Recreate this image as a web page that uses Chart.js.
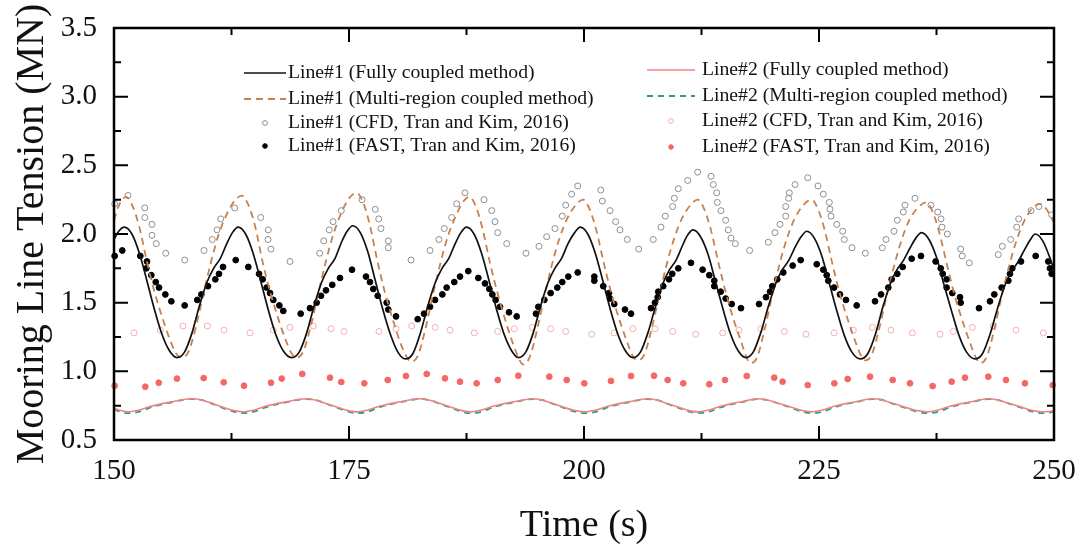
<!DOCTYPE html>
<html>
<head>
<meta charset="utf-8">
<script src="https://cdn.jsdelivr.net/npm/chart.js@4.4.1/dist/chart.umd.min.js"></script>
<style>
    html, body { margin: 0; padding: 0; background: #fff; }
    #wrap { width: 1083px; height: 550px; }
</style>
</head>
<body>
<div id="wrap"><canvas id="chart__tension" width="1083" height="550"></canvas></div>
<script>
// Line#1, fully coupled method (solid black)
const line1FullTime = [150.0, 150.5, 151.1, 151.9, 152.7, 153.5, 154.3, 155.1, 155.9, 156.7,
    157.5, 158.3, 159.1, 159.9, 160.6, 161.3, 162.0, 162.6, 163.2,
    164.0, 164.8, 165.6, 166.4, 167.2, 168.0, 168.9,
    169.7, 170.5, 171.3, 172.1, 172.8, 173.5, 174.2, 174.8, 175.4,
    176.2, 177.0, 177.8, 178.6, 179.4, 180.2, 181.0,
    181.8, 182.6, 183.4, 184.2, 184.9, 185.6, 186.3, 186.9, 187.5,
    188.3, 189.1, 189.9, 190.7, 191.5, 192.3, 193.0,
    193.8, 194.6, 195.4, 196.2, 196.9, 197.6, 198.3, 199.0, 199.6,
    200.4, 201.2, 202.0, 202.8, 203.6, 204.4, 205.2,
    206.0, 206.8, 207.6, 208.4, 209.1, 209.8, 210.5, 211.0, 211.6,
    212.4, 213.2, 214.0, 214.8, 215.6, 216.4, 217.2,
    218.0, 218.8, 219.6, 220.4, 221.1, 221.8, 222.5, 223.1, 223.7,
    224.5, 225.3, 226.1, 226.9, 227.7, 228.5, 229.4,
    230.2, 231.0, 231.8, 232.6, 233.3, 234.0, 234.7, 235.3, 235.9,
    236.7, 237.5, 238.3, 239.1, 239.9, 240.7, 241.6,
    242.4, 243.2, 244.0, 244.8, 245.5, 246.2, 246.9, 247.5, 248.0,
    248.8, 249.6, 250.0];
const line1FullValue = [1.96, 2.02, 2.05, 2.00, 1.86, 1.66, 1.45, 1.27, 1.15, 1.10,
    1.14, 1.28, 1.48, 1.65, 1.75, 1.82, 1.93, 2.01, 2.05,
    2.00, 1.86, 1.66, 1.45, 1.27, 1.15, 1.10,
    1.14, 1.28, 1.48, 1.65, 1.75, 1.82, 1.94, 2.02, 2.06,
    2.01, 1.87, 1.66, 1.45, 1.27, 1.14, 1.09,
    1.13, 1.28, 1.48, 1.65, 1.75, 1.82, 1.93, 2.01, 2.05,
    2.00, 1.86, 1.66, 1.45, 1.27, 1.15, 1.10,
    1.14, 1.28, 1.48, 1.65, 1.75, 1.82, 1.93, 2.01, 2.05,
    2.00, 1.86, 1.66, 1.45, 1.27, 1.15, 1.10,
    1.14, 1.28, 1.47, 1.64, 1.74, 1.81, 1.92, 1.99, 2.03,
    1.98, 1.85, 1.65, 1.45, 1.27, 1.15, 1.10,
    1.14, 1.28, 1.47, 1.64, 1.74, 1.81, 1.91, 1.98, 2.02,
    1.97, 1.84, 1.64, 1.44, 1.26, 1.14, 1.09,
    1.13, 1.27, 1.47, 1.64, 1.74, 1.81, 1.90, 1.97, 2.01,
    1.96, 1.83, 1.63, 1.44, 1.26, 1.14, 1.09,
    1.13, 1.27, 1.46, 1.63, 1.73, 1.80, 1.89, 1.96, 2.00,
    1.95, 1.82, 1.74];

// Line#1, multi-region coupled method (dashed brown)
const line1MultiTime = [150.0, 150.6, 151.3,
    152.0, 152.7, 153.5, 154.3, 155.1, 155.9, 156.6, 157.2,
    157.9, 158.7, 159.5, 160.3, 161.1, 161.9, 162.7, 163.6,
    164.3, 165.0, 165.8, 166.6, 167.4, 168.2, 168.9, 169.4,
    170.1, 170.9, 171.7, 172.5, 173.3, 174.1, 174.9, 175.8,
    176.5, 177.2, 178.0, 178.8, 179.6, 180.4, 181.1, 181.6,
    182.3, 183.1, 183.9, 184.7, 185.5, 186.3, 187.0, 187.8,
    188.5, 189.2, 190.0, 190.8, 191.6, 192.4, 193.1, 193.5,
    194.2, 195.0, 195.8, 196.6, 197.4, 198.2, 199.0, 199.9,
    200.6, 201.3, 202.1, 202.9, 203.7, 204.5, 205.2, 205.7,
    206.4, 207.2, 208.0, 208.8, 209.6, 210.4, 211.2, 212.1,
    212.8, 213.5, 214.3, 215.1, 215.9, 216.7, 217.3, 217.7,
    218.4, 219.2, 220.0, 220.8, 221.6, 222.4, 223.2, 224.2,
    224.9, 225.6, 226.4, 227.2, 228.0, 228.8, 229.5, 229.9,
    230.6, 231.4, 232.2, 233.0, 233.8, 234.6, 235.5, 236.4,
    237.1, 237.8, 238.6, 239.4, 240.2, 241.0, 241.7, 242.1,
    242.8, 243.6, 244.4, 245.2, 246.0, 246.8, 247.6, 248.5,
    249.2, 250.0];
const line1MultiValue = [2.10, 2.22, 2.27,
    2.20, 2.05, 1.80, 1.58, 1.40, 1.24, 1.13, 1.10,
    1.14, 1.32, 1.56, 1.79, 1.99, 2.13, 2.23, 2.28,
    2.21, 2.06, 1.80, 1.58, 1.40, 1.24, 1.13, 1.10,
    1.14, 1.32, 1.56, 1.79, 1.99, 2.14, 2.25, 2.30,
    2.23, 2.07, 1.81, 1.58, 1.39, 1.22, 1.11, 1.07,
    1.11, 1.30, 1.55, 1.78, 1.98, 2.12, 2.22, 2.27,
    2.20, 2.04, 1.79, 1.57, 1.38, 1.21, 1.09, 1.05,
    1.10, 1.30, 1.55, 1.78, 1.97, 2.11, 2.20, 2.25,
    2.18, 2.03, 1.79, 1.57, 1.39, 1.23, 1.11, 1.08,
    1.12, 1.31, 1.55, 1.78, 1.97, 2.11, 2.20, 2.25,
    2.18, 2.03, 1.79, 1.57, 1.38, 1.22, 1.10, 1.06,
    1.10, 1.30, 1.55, 1.78, 1.97, 2.11, 2.20, 2.25,
    2.18, 2.03, 1.79, 1.57, 1.39, 1.23, 1.11, 1.08,
    1.12, 1.31, 1.55, 1.77, 1.96, 2.10, 2.19, 2.23,
    2.16, 2.01, 1.78, 1.56, 1.38, 1.22, 1.10, 1.06,
    1.10, 1.29, 1.54, 1.76, 1.95, 2.09, 2.18, 2.22,
    2.18, 2.08];

// Line#1, CFD (Tran and Kim, 2016) - open grey circles
const line1CfdTime = [150.07, 151.49, 153.27, 153.27, 154.04, 154.04, 154.5, 155.5, 157.52, 159.57,
    160.46, 160.96, 161.35, 162.84, 165.61, 166.41, 166.38, 166.70, 168.72, 171.88,
    172.31, 172.90, 173.30, 174.18, 176.38, 177.80, 178.16, 178.40, 179.18, 179.18,
    181.60, 183.62, 184.57, 185.14, 185.92, 186.45, 187.34, 189.36, 190.18, 190.53,
    190.82, 191.78, 193.83, 195.21, 196.03, 196.91, 197.69, 198.05, 198.69, 199.33,
    201.78, 201.95, 202.77, 203.37, 203.83, 204.61, 205.82, 207.37, 208.19, 208.65,
    209.43, 209.61, 210.03, 211.03, 212.09, 213.51, 213.76, 214.12, 214.18, 214.57,
    215.07, 215.35, 215.64, 216.10, 217.62, 219.61, 220.32, 220.85, 221.46, 221.46,
    221.77, 221.84, 222.45, 223.80, 224.89, 225.46, 226.10, 226.17, 226.28, 226.88,
    227.52, 227.69, 228.51, 229.93, 231.74, 232.13, 232.98, 233.33, 233.97, 234.15,
    235.21, 236.91, 237.63, 237.98, 238.09, 238.65, 240.07, 240.24, 240.99, 244.07,
    244.50, 245.39, 246.03, 246.24, 247.55, 248.40, 249.75];
const line1CfdValue = [2.22, 2.28, 2.19, 2.12, 2.07, 1.99, 1.93, 1.86, 1.81, 1.88,
    1.96, 2.03, 2.11, 2.19, 2.12, 2.03, 1.96, 1.89, 1.80, 1.86,
    1.95, 2.03, 2.09, 2.17, 2.25, 2.18, 2.11, 2.04, 1.95, 1.90,
    1.81, 1.88, 1.96, 2.04, 2.12, 2.22, 2.30, 2.25, 2.17, 2.09,
    2.01, 1.93, 1.86, 1.91, 1.98, 2.04, 2.13, 2.21, 2.29, 2.35,
    2.32, 2.24, 2.17, 2.09, 2.03, 1.96, 1.89, 1.96, 2.05, 2.13,
    2.20, 2.26, 2.33, 2.39, 2.45, 2.42, 2.36, 2.30, 2.23, 2.17,
    2.10, 2.03, 1.97, 1.93, 1.88, 1.94, 2.01, 2.07, 2.13, 2.20,
    2.26, 2.30, 2.36, 2.41, 2.35, 2.29, 2.23, 2.18, 2.13, 2.07,
    2.02, 1.96, 1.90, 1.86, 1.90, 1.96, 2.02, 2.10, 2.16, 2.21,
    2.26, 2.21, 2.16, 2.11, 2.05, 2.00, 1.89, 1.84, 1.79, 1.85,
    1.91, 1.96, 2.05, 2.11, 2.17, 2.20, 2.14];

// Line#1, FAST (Tran and Kim, 2016) - filled black dots
const line1FastTime = [150.07, 150.88, 152.80, 153.51, 153.44, 153.97, 154.44, 154.79, 155.46, 156.10,
    157.52, 158.86, 159.29, 160.00, 160.78, 161.17, 161.60, 162.95, 164.29, 165.43,
    165.82, 166.24, 166.60, 166.95, 167.59, 168.01, 169.86, 170.85, 171.56, 172.02,
    172.55, 173.22, 174.04, 175.32, 176.81, 177.23, 177.59, 178.05, 179.01, 179.18,
    180.00, 182.31, 182.98, 183.62, 184.15, 184.93, 185.39, 186.20, 186.81, 187.69,
    188.76, 189.47, 189.93, 190.25, 190.60, 191.06, 192.02, 192.84, 194.89, 195.14,
    195.78, 196.45, 197.16, 197.69, 198.33, 199.33, 201.10, 201.10, 202.05, 202.66,
    202.77, 203.22, 204.36, 205.00, 207.13, 207.55, 207.84, 207.90, 208.43, 209.04,
    209.39, 210.03, 211.38, 212.62, 213.33, 213.86, 213.86, 214.54, 215.07, 215.71,
    216.70, 218.62, 219.36, 219.79, 220.03, 220.56, 221.20, 222.20, 223.05, 224.76,
    225.46, 225.82, 225.99, 226.60, 227.23, 227.87, 229.01, 230.96, 231.60, 232.37,
    232.73, 233.33, 233.90, 234.86, 235.85, 237.41, 237.95, 238.16, 238.58, 238.58,
    239.18, 240.00, 240.07, 242.02, 243.19, 243.65, 244.43, 245.14, 245.32, 245.56,
    246.49, 248.05, 249.39, 249.57, 249.75];
const line1FastValue = [1.84, 1.88, 1.84, 1.80, 1.75, 1.70, 1.65, 1.61, 1.56, 1.51,
    1.48, 1.52, 1.56, 1.62, 1.67, 1.71, 1.76, 1.81, 1.76, 1.71,
    1.67, 1.61, 1.57, 1.52, 1.48, 1.44, 1.42, 1.46, 1.50, 1.55,
    1.59, 1.63, 1.68, 1.74, 1.69, 1.65, 1.60, 1.55, 1.50, 1.45,
    1.40, 1.38, 1.42, 1.47, 1.52, 1.56, 1.61, 1.65, 1.69, 1.73,
    1.68, 1.64, 1.60, 1.56, 1.52, 1.47, 1.43, 1.40, 1.42, 1.47,
    1.52, 1.57, 1.61, 1.65, 1.69, 1.72, 1.69, 1.66, 1.62, 1.57,
    1.53, 1.49, 1.45, 1.42, 1.46, 1.50, 1.54, 1.58, 1.62, 1.67,
    1.71, 1.75, 1.79, 1.74, 1.70, 1.66, 1.62, 1.58, 1.53, 1.49,
    1.46, 1.49, 1.54, 1.58, 1.62, 1.67, 1.72, 1.77, 1.81, 1.78,
    1.74, 1.70, 1.66, 1.61, 1.56, 1.52, 1.48, 1.51, 1.56, 1.61,
    1.67, 1.71, 1.76, 1.82, 1.84, 1.80, 1.75, 1.71, 1.67, 1.61,
    1.57, 1.54, 1.50, 1.46, 1.51, 1.56, 1.61, 1.66, 1.71, 1.75,
    1.80, 1.84, 1.80, 1.75, 1.71];

// Line#2 (fully coupled: pink solid, multi-region: teal dashed) share one time base
const line2Time = [150.0, 150.7, 151.5,
    152.7, 153.9, 155.1, 156.3, 157.4, 158.3, 159.4, 160.5, 161.5, 162.6, 163.7,
    164.9, 166.1, 167.3, 168.5, 169.6, 170.4, 171.5, 172.6, 173.7, 174.8, 175.8,
    177.0, 178.2, 179.4, 180.6, 181.7, 182.5, 183.6, 184.7, 185.8, 186.9, 187.9,
    189.1, 190.3, 191.5, 192.7, 193.8, 194.5, 195.6, 196.7, 197.8, 198.9, 200.1,
    201.3, 202.5, 203.7, 204.9, 206.0, 206.7, 207.8, 208.9, 210.0, 211.1, 212.1,
    213.3, 214.5, 215.7, 216.9, 217.8, 218.4, 219.6, 220.8, 222.0, 223.1, 224.2,
    225.4, 226.6, 227.8, 229.0, 230.0, 230.7, 231.8, 232.9, 234.1, 235.3, 236.5,
    237.7, 238.9, 240.1, 241.3, 242.3, 243.0, 244.1, 245.3, 246.5, 247.6, 248.7,
    249.5, 250.0];
const line2FullValue = [0.730, 0.715, 0.705,
    0.718, 0.745, 0.765, 0.780, 0.795, 0.800, 0.790, 0.765, 0.740, 0.716, 0.705,
    0.718, 0.745, 0.765, 0.780, 0.795, 0.800, 0.790, 0.765, 0.740, 0.716, 0.705,
    0.718, 0.745, 0.765, 0.780, 0.795, 0.800, 0.790, 0.765, 0.740, 0.716, 0.705,
    0.718, 0.745, 0.765, 0.780, 0.795, 0.800, 0.790, 0.765, 0.740, 0.716, 0.705,
    0.718, 0.745, 0.765, 0.780, 0.795, 0.800, 0.790, 0.765, 0.740, 0.716, 0.705,
    0.718, 0.745, 0.765, 0.780, 0.795, 0.800, 0.790, 0.765, 0.740, 0.716, 0.705,
    0.718, 0.745, 0.765, 0.780, 0.795, 0.800, 0.790, 0.765, 0.740, 0.716, 0.705,
    0.718, 0.745, 0.765, 0.780, 0.795, 0.800, 0.790, 0.765, 0.740, 0.716, 0.705,
    0.708, 0.712];
const line2MultiValue = [0.725, 0.705, 0.695,
    0.706, 0.737, 0.760, 0.777, 0.793, 0.798, 0.790, 0.763, 0.736, 0.709, 0.695,
    0.706, 0.737, 0.760, 0.777, 0.793, 0.798, 0.790, 0.763, 0.736, 0.709, 0.695,
    0.706, 0.737, 0.760, 0.777, 0.793, 0.798, 0.790, 0.763, 0.736, 0.709, 0.695,
    0.706, 0.737, 0.760, 0.777, 0.793, 0.798, 0.790, 0.763, 0.736, 0.709, 0.695,
    0.706, 0.737, 0.760, 0.777, 0.793, 0.798, 0.790, 0.763, 0.736, 0.709, 0.695,
    0.706, 0.737, 0.760, 0.777, 0.793, 0.798, 0.790, 0.763, 0.736, 0.709, 0.695,
    0.706, 0.737, 0.760, 0.777, 0.793, 0.798, 0.790, 0.763, 0.736, 0.709, 0.695,
    0.706, 0.737, 0.760, 0.777, 0.793, 0.798, 0.790, 0.763, 0.736, 0.709, 0.695,
    0.700, 0.705];

// Line#2, CFD (Tran and Kim, 2016) - open pink circles
const line2CfdTime = [152.13, 154.93, 157.34, 159.93, 161.70, 164.47, 166.95, 168.72, 171.20, 173.09,
    174.47, 178.19, 180.00, 181.67, 184.18, 185.74, 188.33, 190.82, 192.59, 194.50,
    196.45, 198.05, 200.82, 203.22, 205.18, 207.55, 209.43, 211.88, 214.75, 216.49,
    218.80, 221.31, 223.62, 226.60, 228.65, 230.67, 232.66, 234.93, 237.87, 239.29,
    241.31, 243.54, 245.96, 248.86];
const line2CfdValue = [1.28, 1.30, 1.33, 1.33, 1.30, 1.28, 1.30, 1.32, 1.33, 1.31,
    1.29, 1.29, 1.31, 1.33, 1.32, 1.30, 1.28, 1.29, 1.31, 1.32,
    1.31, 1.29, 1.27, 1.28, 1.31, 1.31, 1.29, 1.27, 1.28, 1.30,
    1.31, 1.29, 1.27, 1.28, 1.30, 1.32, 1.30, 1.28, 1.27, 1.29,
    1.32, 1.33, 1.30, 1.28];

// Line#2, FAST (Tran and Kim, 2016) - filled red dots
const line2FastTime = [150.07, 153.33, 154.76, 156.70, 159.54, 161.67, 163.83, 166.70, 167.84, 170.03,
    172.98, 174.18, 176.63, 179.12, 181.06, 183.27, 185.21, 186.81, 188.58, 190.82,
    193.01, 196.31, 198.16, 200.03, 202.87, 205.00, 207.45, 208.90, 210.56, 213.33,
    215.00, 217.31, 220.24, 221.13, 223.80, 226.63, 228.05, 230.43, 232.84, 234.68,
    237.09, 239.11, 240.53, 243.01, 244.89, 246.91, 249.86];
const line2FastValue = [0.895, 0.888, 0.917, 0.947, 0.951, 0.920, 0.895, 0.917, 0.947, 0.981,
    0.954, 0.922, 0.913, 0.937, 0.966, 0.981, 0.949, 0.925, 0.913, 0.937,
    0.968, 0.961, 0.937, 0.913, 0.930, 0.966, 0.968, 0.937, 0.913, 0.906,
    0.937, 0.966, 0.954, 0.925, 0.900, 0.913, 0.944, 0.961, 0.937, 0.913,
    0.893, 0.925, 0.954, 0.961, 0.937, 0.913, 0.900];

const xTicks = { min: 150, max: 250, step: 25 };
const yTicks = { min: 0.5, max: 3.5, step: 0.5 };

const SERIF = "'Liberation Serif', 'Times New Roman', serif";

const toPoints = (xs, ys) => xs.map((x, i) => ({ x: x, y: ys[i] }));

const lineSet = (label, xs, ys, color, width, dash) => ({
    label: label,
    data: toPoints(xs, ys),
    borderColor: color,
    borderWidth: width,
    borderDash: dash,
    pointRadius: 0,
    cubicInterpolationMode: 'monotone',
    fill: false,
});

const dotSet = (label, xs, ys, stroke, fillColor, radius) => ({
    label: label,
    data: toPoints(xs, ys),
    showLine: false,
    borderColor: stroke,
    backgroundColor: fillColor,
    borderWidth: 1,
    pointRadius: radius,
    clip: 6,
});

const datasets = [
    lineSet('Line#1 (Fully coupled method)', line1FullTime, line1FullValue, '#111111', 1.7, []),
    lineSet('Line#1 (Multi-region coupled method)', line1MultiTime, line1MultiValue, '#c8804c', 1.8, [7, 5]),
    dotSet('Line#1 (CFD, Tran and Kim, 2016)', line1CfdTime, line1CfdValue, '#8e8e8e', 'rgba(0,0,0,0)', 3),
    dotSet('Line#1 (FAST, Tran and Kim, 2016)', line1FastTime, line1FastValue, '#000000', '#000000', 2.9),
    lineSet('Line#2 (Fully coupled method)', line2Time, line2FullValue, '#f28383', 1.6, []),
    lineSet('Line#2 (Multi-region coupled method)', line2Time, line2MultiValue, '#1f9f8c', 1.8, [6, 5]),
    dotSet('Line#2 (CFD, Tran and Kim, 2016)', line2CfdTime, line2CfdValue, '#f5aeae', 'rgba(0,0,0,0)', 3),
    dotSet('Line#2 (FAST, Tran and Kim, 2016)', line2FastTime, line2FastValue, '#f46767', '#f46767', 2.9),
];

// inward major/minor ticks on all four sides plus the frame
const frameTicks = {
    id: 'frameTicks',
    afterDatasetsDraw(chart) {
        const { ctx, chartArea: a, scales: { x, y } } = chart;
        const majorLen = 14, minorLen = 7;
        ctx.save();
        ctx.strokeStyle = '#000';
        ctx.lineWidth = 2;
        const xs = x.ticks.map(t => t.value);
        const ys = y.ticks.map(t => t.value);
        const mark = (pos, len, vertical) => {
            ctx.beginPath();
            if (vertical) {
                ctx.moveTo(pos, a.bottom); ctx.lineTo(pos, a.bottom - len);
                ctx.moveTo(pos, a.top); ctx.lineTo(pos, a.top + len);
            } else {
                ctx.moveTo(a.left, pos); ctx.lineTo(a.left + len, pos);
                ctx.moveTo(a.right, pos); ctx.lineTo(a.right - len, pos);
            }
            ctx.stroke();
        };
        xs.forEach((v, i) => {
            mark(x.getPixelForValue(v), majorLen, true);
            if (i < xs.length - 1) mark(x.getPixelForValue((v + xs[i + 1]) / 2), minorLen, true);
        });
        ys.forEach((v, i) => {
            mark(y.getPixelForValue(v), majorLen, false);
            if (i < ys.length - 1) mark(y.getPixelForValue((v + ys[i + 1]) / 2), minorLen, false);
        });
        ctx.lineWidth = 2.5;
        ctx.strokeRect(a.left, a.top, a.right - a.left, a.bottom - a.top);
        ctx.restore();
    }
};

// two-column legend inside the plot
const legendCols = [
    { sample: [244, 286], text: 288, rows: [73, 99, 123, 146] },
    { sample: [647, 695], text: 702, rows: [70, 96, 121, 147] },
];

const boxLegend = {
    id: 'boxLegend',
    afterDraw(chart) {
        const { ctx } = chart;
        ctx.save();
        ctx.font = '19.7px ' + SERIF;
        ctx.textBaseline = 'middle';
        chart.data.datasets.forEach((ds, i) => {
            const col = legendCols[Math.floor(i / 4)];
            const rowY = col.rows[i % 4];
            const [x0, x1] = col.sample;
            if (ds.showLine === false) {
                ctx.beginPath();
                ctx.arc((x0 + x1) / 2, rowY, ds.pointRadius * 0.8, 0, Math.PI * 2);
                ctx.fillStyle = ds.backgroundColor;
                ctx.fill();
                ctx.lineWidth = 1;
                ctx.strokeStyle = ds.borderColor;
                ctx.stroke();
            } else {
                ctx.beginPath();
                ctx.setLineDash(ds.borderDash);
                ctx.lineWidth = ds.borderWidth;
                ctx.strokeStyle = ds.borderColor;
                ctx.moveTo(x0, rowY);
                ctx.lineTo(x1, rowY);
                ctx.stroke();
                ctx.setLineDash([]);
            }
            ctx.fillStyle = '#111';
            ctx.fillText(ds.label, col.text, rowY);
        });
        ctx.restore();
    }
};

new Chart(document.getElementById('chart__tension'), {
    type: 'line',
    data: { datasets: datasets },
    options: {
        responsive: false,
        animation: false,
        layout: { padding: { left: 0, right: 29, top: 28, bottom: 0 } },
        plugins: {
            legend: { display: false },
            tooltip: { enabled: false },
        },
        scales: {
            x: {
                type: 'linear',
                min: xTicks.min,
                max: xTicks.max,
                grid: { display: false, drawTicks: false },
                border: { display: false },
                ticks: {
                    stepSize: xTicks.step,
                    padding: 14,
                    color: '#111',
                    font: { family: SERIF, size: 29 },
                },
                title: {
                    display: true,
                    text: 'Time (s)',
                    color: '#111',
                    font: { family: SERIF, size: 38 },
                    padding: { top: 0, bottom: 1 },
                },
                afterFit(scale) {
                    scale.height = 110;
                    scale.paddingLeft = 0;
                    scale.paddingRight = 0;
                },
            },
            y: {
                min: yTicks.min,
                max: yTicks.max,
                grid: { display: false, drawTicks: false },
                border: { display: false },
                ticks: {
                    stepSize: yTicks.step,
                    padding: 17,
                    color: '#111',
                    font: { family: SERIF, size: 29 },
                    callback: v => v.toFixed(1),
                },
                title: {
                    display: true,
                    text: 'Mooring Line Tension (MN)',
                    color: '#111',
                    font: { family: SERIF, size: 40 },
                    padding: { top: 8, bottom: 0 },
                },
                afterFit(scale) {
                    scale.width = 114;
                    scale.paddingTop = 0;
                    scale.paddingBottom = 0;
                },
            },
        },
    },
    plugins: [frameTicks, boxLegend],
});
</script>
</body>
</html>
